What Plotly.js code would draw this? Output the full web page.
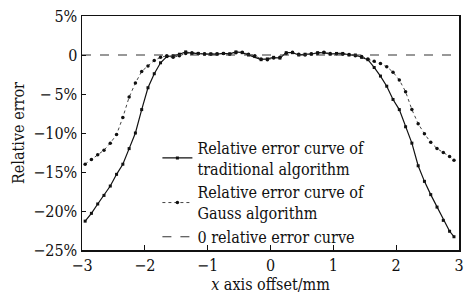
<!DOCTYPE html>
<html>
<head>
<meta charset="utf-8">
<script src="https://cdn.plot.ly/plotly-3.0.1.min.js"></script>
<style>html,body{margin:0;padding:0;background:#fff;}#chart{width:464px;height:295px;}</style>
</head>
<body>
<div id="chart"></div>
<script>
const xOffset = [-2.95,-2.85,-2.75,-2.65,-2.55,-2.45,-2.35,-2.25,-2.15,-2.05,-1.95,-1.85,-1.75,-1.65,-1.55,-1.45,-1.35,-1.25,-1.15,-1.05,-0.95,-0.85,-0.75,-0.65,-0.55,-0.45,-0.35,-0.25,-0.15,-0.05,0.05,0.15,0.25,0.35,0.45,0.55,0.65,0.75,0.85,0.95,1.05,1.15,1.25,1.35,1.45,1.55,1.65,1.75,1.85,1.95,2.05,2.15,2.25,2.35,2.45,2.55,2.65,2.75,2.85,2.92];
const traditionalError = [-21.3,-20.3,-19.1,-18.0,-16.8,-15.3,-14.0,-12.0,-10.0,-7.0,-4.2,-2.4,-1.0,-0.2,-0.1,0.1,0.4,0.2,0.2,0.1,0.15,0.1,0.2,0.15,0.4,0.3,0.0,-0.2,-0.6,-0.5,-0.3,-0.4,0.3,0.3,0.0,0.1,0.1,0.3,0.3,0.1,0.2,0.2,0.0,0.0,-0.3,-0.6,-1.6,-2.7,-4.0,-5.7,-7.0,-9.2,-11.3,-14.2,-16.2,-17.9,-19.5,-21.2,-22.6,-23.3];
const gaussError = [-14.0,-13.4,-12.8,-12.2,-11.3,-10.2,-8.0,-5.4,-3.6,-2.1,-1.4,-0.7,-0.3,-0.1,-0.3,-0.1,0.2,0.3,0.2,0.15,0.1,0.15,0.2,0.1,0.3,0.35,0.1,-0.1,-0.5,-0.6,-0.4,-0.3,0.2,0.35,0.1,0.0,0.15,0.2,0.35,0.2,0.15,0.1,0.05,-0.1,-0.2,-0.5,-0.8,-1.1,-1.5,-2.2,-3.2,-4.7,-7.0,-8.8,-10.1,-11.2,-12.0,-12.5,-13.0,-13.5];
const zeroX = [-3, 3];
const zeroY = [0, 0];
const yTickVals = [5, 0, -5, -10, -15, -20, -25];
const yTickText = ["5%", "0", "\u2212\u20095%", "\u221210%", "\u221215%", "\u221220%", "\u221225%"];
const xTickVals = [-3, -2, -1, 0, 1, 2, 3];
const xTickText = ["\u22123", "\u22122", "\u22121", "0", "1", "2", "3"];

const font = "DejaVu Serif Condensed, DejaVu Serif";
const traces = [
  {x: xOffset, y: traditionalError, type: "scatter", mode: "lines+markers",
   name: "Relative error curve of<br>traditional algorithm",
   line: {color: "#111", width: 1.2}, marker: {symbol: "square", size: 3, color: "#111"}},
  {x: xOffset, y: gaussError, type: "scatter", mode: "lines+markers",
   name: "Relative error curve of<br>Gauss algorithm",
   line: {color: "#444", width: 1, dash: "dot"}, marker: {symbol: "circle", size: 3.5, color: "#111"}},
  {x: zeroX, y: zeroY, type: "scatter", mode: "lines",
   name: "0 relative error curve",
   line: {color: "#333", width: 1.2, dash: "dash"}}
];
const layout = {
  width: 464, height: 295,
  margin: {l: 82, r: 5, t: 16, b: 45},
  paper_bgcolor: "#fff", plot_bgcolor: "#fff",
  font: {family: font, size: 16, color: "#111"},
  showlegend: true,
  legend: {x: 0.2, y: 0.51, xanchor: "left", yanchor: "top", bgcolor: "rgba(0,0,0,0)",
           font: {family: font, size: 16, color: "#111"}, tracegroupgap: 0, itemwidth: 30},
  xaxis: {range: [-3, 3], tickvals: xTickVals, ticktext: xTickText, ticklabeloverflow: "allow",
          ticks: "inside", ticklen: 5, tickcolor: "#111", showgrid: false, zeroline: false,
          showline: true, linecolor: "#111", linewidth: 1.5, mirror: true,
          tickfont: {family: font, size: 16},
          title: {text: "<i>x</i> axis offset/mm", font: {family: font, size: 16}, standoff: 5}},
  yaxis: {range: [-25, 5], tickvals: yTickVals, ticktext: yTickText,
          ticks: "inside", ticklen: 4, tickcolor: "#111", showgrid: false, zeroline: false,
          showline: true, linecolor: "#111", linewidth: 1.5, mirror: true,
          tickfont: {family: font, size: 16},
          title: {text: "Relative error", font: {family: font, size: 16}, standoff: 4}}
};
Plotly.newPlot("chart", traces, layout, {displayModeBar: false, staticPlot: true});
</script>
</body>
</html>
